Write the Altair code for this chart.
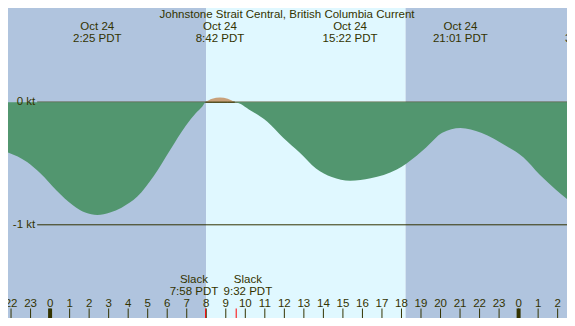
import altair as alt
import pandas as pd

# ---------------- data ----------------
neg_hours = [-2.16, -1.16, -0.50, 0.33, 1.17, 1.80, 2.42, 3.07, 3.66, 4.47, 5.32, 6.15, 6.96,
             7.46, 7.80, 7.97,
             9.46, 10.29, 11.13, 11.94, 12.78, 13.62, 14.43, 15.37, 16.42, 17.76, 18.26,
             19.26, 20.09, 21.02, 22.08, 23.39, 24.24, 25.07, 25.88, 26.48]
neg_kt = [-0.41, -0.49, -0.58, -0.72, -0.84, -0.90, -0.92, -0.90, -0.86, -0.77, -0.60, -0.39, -0.19,
          -0.09, -0.035, 0.0,
          0.0, -0.07, -0.16, -0.29, -0.41, -0.54, -0.61, -0.64, -0.62, -0.55, -0.50,
          -0.37, -0.25, -0.21, -0.25, -0.36, -0.45, -0.59, -0.71, -0.79]

pos_hours = [7.97, 8.30, 8.70, 9.10, 9.46]
pos_kt = [0.0, 0.027, 0.037, 0.027, 0.0]

bg_start = [-2.16, 7.99, 18.21]
bg_end = [7.99, 18.21, 26.48]
bg_kind = ["night", "day", "night"]

event_hours = [2.417, 8.70, 15.367, 21.017, 27.62]
event_date = ["Oct 24", "Oct 24", "Oct 24", "Oct 24", "Oct 25"]
event_time = ["2:25 PDT", "8:42 PDT", "15:22 PDT", "21:01 PDT", "3:37 PDT"]

slack_hours = [7.967, 9.533]
slack_time = ["7:58 PDT", "9:32 PDT"]

hour_ticks = list(range(-2, 27))
hour_labels = [str(h % 24) for h in hour_ticks]
midnight_hours = [0, 24]

level_kt = [0, -1]
level_labels = ["0 kt", "-1 kt"]

title_text = "Johnstone Strait Central, British Columbia Current"

# ---------------- layout ----------------
W, H = 559, 310
SX, SY = W / 575, H / 326
X_DOMAIN = [-2.156, 26.479]
Y_DOMAIN = [-1.7597, 0.7674]

TXT = "#333300"
FONT = "Liberation Sans"
FS = 11.5

xs = alt.Scale(domain=X_DOMAIN, nice=False, zero=False)
ys = alt.Scale(domain=Y_DOMAIN, nice=False, zero=False)

def X(field):
    return alt.X(field, type="quantitative", scale=xs, axis=None)

def Y(field):
    return alt.Y(field, type="quantitative", scale=ys, axis=None)

neg_df = pd.DataFrame({"h": neg_hours, "kt": neg_kt})
pos_df = pd.DataFrame({"h": pos_hours, "kt": pos_kt})
bg_df = pd.DataFrame({"start": bg_start, "end": bg_end, "kind": bg_kind})
ev_df = pd.DataFrame({"h": event_hours, "date": event_date, "time": event_time})
slack0_df = pd.DataFrame({"h": slack_hours[:1], "time": slack_time[:1]})
slack1_df = pd.DataFrame({"h": slack_hours[1:], "time": slack_time[1:]})
slack_df = pd.DataFrame({"h": slack_hours})
tick_df = pd.DataFrame({"h": hour_ticks, "label": hour_labels})
mid_df = pd.DataFrame({"h": midnight_hours})
lvl_df = pd.DataFrame({"kt": level_kt, "label": level_labels})
title_df = pd.DataFrame({"t": [title_text]})

bg = alt.Chart(bg_df).mark_rect().encode(
    x=X("start"), x2="end",
    y=alt.value(0), y2=alt.value(H),
    color=alt.Color("kind:N", scale=alt.Scale(domain=["night", "day"],
                                                range=["#b0c4de", "#e0f8ff"]), legend=None),
)

levels = alt.Chart(lvl_df).mark_rule(color=TXT, strokeWidth=1).encode(
    x=alt.value(30 * SX), x2=alt.value(W), y=Y("kt"),
)

neg_area = alt.Chart(neg_df).transform_calculate(zero="0").mark_area(
    color="#52966f", interpolate="monotone").encode(
    x=X("h"), y=Y("kt"), y2="zero:Q",
)

pos_area = alt.Chart(pos_df).transform_calculate(zero="0").mark_area(
    color="#c8a07a", interpolate="monotone").encode(
    x=X("h"), y=Y("kt"), y2="zero:Q",
)

zero_line = alt.Chart(pos_df).transform_calculate(zero="0").mark_line(
    color=TXT, strokeWidth=1).encode(
    x=X("h"), y=Y("zero"),
)

def text_mark(df, **kw):
    return alt.Chart(df).mark_text(baseline="middle", font=FONT, fontSize=FS, color=TXT, **kw)

level_text = text_mark(lvl_df, align="right").encode(
    x=alt.value(28 * SX), y=Y("kt"), text="label:N",
)

ev_date = text_mark(ev_df, align="center").encode(
    x=X("h"), y=alt.value(18.5), text="date:N",
)
ev_time = text_mark(ev_df, align="center").encode(
    x=X("h"), y=alt.value(30.5), text="time:N",
)

title = text_mark(title_df, align="center").encode(
    x=alt.value(287 * SX), y=alt.value(6.5), text="t:N",
)

ticks = alt.Chart(tick_df).mark_rule(color=TXT, strokeWidth=1).encode(
    x=X("h"), y=alt.value(316 * SY), y2=alt.value(H),
)
mid_ticks = alt.Chart(mid_df).mark_rule(color=TXT, strokeWidth=4).encode(
    x=X("h"), y=alt.value(316 * SY), y2=alt.value(H),
)
tick_text = text_mark(tick_df, align="center").encode(
    x=X("h"), y=alt.value(296), text="label:N",
)

slack_ticks = alt.Chart(slack_df).mark_rule(color="#ff0000", strokeWidth=1).encode(
    x=X("h"), y=alt.value(316 * SY), y2=alt.value(H),
)

s0a = text_mark(slack0_df, align="center", dx=-12 * SX).encode(
    x=X("h"), y=alt.value(272), text=alt.value("Slack"))
s0b = text_mark(slack0_df, align="center", dx=-12 * SX).encode(
    x=X("h"), y=alt.value(284), text="time:N")
s1a = text_mark(slack1_df, align="center", dx=12 * SX).encode(
    x=X("h"), y=alt.value(272), text=alt.value("Slack"))
s1b = text_mark(slack1_df, align="center", dx=12 * SX).encode(
    x=X("h"), y=alt.value(284), text="time:N")

chart = alt.layer(
    bg, levels, neg_area, pos_area, zero_line, level_text,
    ev_date, ev_time, title,
    ticks, mid_ticks, slack_ticks, tick_text,
    s0a, s0b, s1a, s1b,
).properties(
    width=W, height=H, padding=0, autosize="none",
).configure_view(strokeOpacity=0)

chart.save("out.html", embed_options={"renderer": "svg", "actions": False})
